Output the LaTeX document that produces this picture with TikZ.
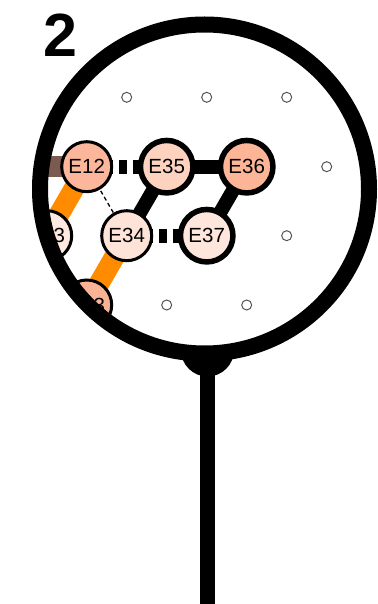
\documentclass[tikz,border=0pt]{standalone}
\usepackage{fontspec}
\setmainfont{Liberation Sans}
\definecolor{fE12}{HTML}{FCB69B}
\definecolor{fE35}{HTML}{FDD3C0}
\definecolor{fE36}{HTML}{FCB597}
\definecolor{fE34}{HTML}{FEE4D8}
\definecolor{fE37}{HTML}{FEE6DC}
\definecolor{fLeft}{HTML}{FEE9E0}
\definecolor{fBot}{HTML}{FBB396}
\definecolor{edgeorange}{HTML}{FF8C00}
\definecolor{edgebrown}{HTML}{7B5B50}
\definecolor{dotgray}{HTML}{555555}
\begin{document}
\begin{tikzpicture}[x=1pt,y=-1pt,
  enode/.style={circle, draw=black, line width=3pt, minimum size=50pt, inner sep=0pt,
    font=\fontsize{20.5}{20.5}\selectfont},
  heavy/.style={line width=5.5pt, minimum size=52.5pt},
  gdot/.style={circle, draw=dotgray, fill=white, line width=1pt, minimum size=10pt, inner sep=0pt},
  solidedge/.style={line width=14pt, black},
  dashedge/.style={line width=14pt, black, dash pattern=on 7.33pt off 6pt, dash phase=7.33pt},
  thinedge/.style={line width=1.3pt, black, dash pattern=on 4pt off 3pt},
  orangeedge/.style={line width=20.5pt, edgeorange},
  brownedge/.style={line width=21pt, edgebrown},
  lens/.style={line width=16pt, black},
  handle/.style={line width=15.5pt, black}
]
\fill[white] (0,0) rectangle (377,604);
\useasboundingbox (0,0) rectangle (377,604);

% handle and knob
\coordinate (knob) at (207.5,350);
\coordinate (hend) at (207.5,604);
\draw[handle] (knob) -- (hend);
\fill[black] (knob) circle[radius=26.5pt];

% lens
\coordinate (lc) at (204.5,189);
\fill[white] (lc) circle[radius=164.5pt];

\begin{scope}
\clip (lc) circle[radius=157pt];
% grid positions
\coordinate (c12) at (86.7,166.7);
\coordinate (c35) at (166.7,166.7);
\coordinate (c36) at (246.7,166.7);
\coordinate (c34) at (126.7,235.7);
\coordinate (c37) at (206.7,235.7);
\coordinate (cL) at (46.7,235.7);
\coordinate (cB) at (86.7,305);
\coordinate (cW) at (6.7,166.7);
% edges
\draw[brownedge] (c12) -- (cW);
\draw[orangeedge] (c12) -- (cL);
\draw[orangeedge] (c34) -- (cB);
\draw[solidedge] (c35) -- (c36);
\draw[solidedge] (c35) -- (c34);
\draw[solidedge] (c36) -- (c37);
\draw[dashedge] (c12) -- (c35);
\draw[dashedge] (c34) -- (c37);
\draw[thinedge] (c12) -- (c34);
% empty sites
\node[gdot] (d1) at (126.7,97.3) {};
\node[gdot] (d2) at (206.7,97.3) {};
\node[gdot] (d3) at (286.7,97.3) {};
\node[gdot] (d4) at (326.7,166.7) {};
\node[gdot] (d5) at (286.7,235.7) {};
\node[gdot] (d6) at (166.7,305) {};
\node[gdot] (d7) at (246.7,305) {};
% nodes
\node[enode, fill=fE12] (E12) at (c12) {E12};
\node[enode, heavy, fill=fE35] (E35) at (c35) {E35};
\node[enode, heavy, fill=fE36] (E36) at (c36) {E36};
\node[enode, fill=fE34] (E34) at (c34) {E34};
\node[enode, heavy, fill=fE37] (E37) at (c37) {E37};
\node[enode, fill=fLeft] (NL) at (cL) {\phantom{E3}3};
\node[enode, fill=fBot] (NB) at (cB) {\phantom{E1}3};
\end{scope}

\draw[lens] (lc) circle[radius=164.5pt];

\node[anchor=base, inner sep=0pt, font=\fontsize{61}{61}\selectfont\bfseries] (label) at (60.8,56.7) {2};
\end{tikzpicture}
\end{document}
